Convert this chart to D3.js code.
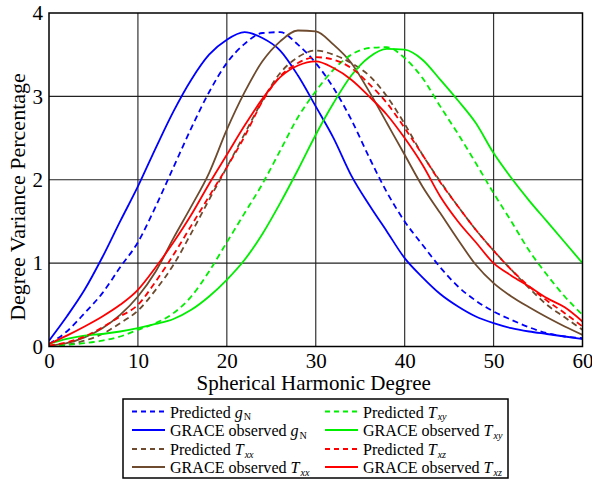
<!DOCTYPE html>
<html><head><meta charset="utf-8">
<script src="https://cdn.jsdelivr.net/npm/d3@7"></script>
<style>body{margin:0;background:#fff}svg{display:block}svg text{font-family:"Liberation Serif","Times New Roman","Tinos","Noto Serif","DejaVu Serif",serif}</style>
</head><body><svg id="c" width="592" height="479"></svg>
<script>
const degrees = [0,2,4,6,8,10,12,14,16,18,20,22,24,26,28,30,32,34,36,38,40,42,44,46,48,50,52,54,56,58,60];
const predGN   = [0.03,0.18,0.40,0.64,0.95,1.25,1.68,2.15,2.62,3.05,3.40,3.63,3.76,3.77,3.62,3.40,3.10,2.72,2.27,1.85,1.50,1.22,0.95,0.72,0.55,0.42,0.32,0.23,0.16,0.12,0.10];
const graceGN  = [0.07,0.36,0.68,1.07,1.50,1.92,2.38,2.82,3.20,3.50,3.68,3.77,3.70,3.55,3.25,2.88,2.50,2.05,1.70,1.38,1.06,0.83,0.63,0.48,0.36,0.28,0.22,0.18,0.15,0.12,0.09];
const predTxx  = [0.00,0.02,0.07,0.15,0.28,0.43,0.68,0.98,1.36,1.76,2.15,2.55,2.95,3.28,3.47,3.55,3.50,3.40,3.25,3.00,2.67,2.30,1.98,1.68,1.40,1.15,0.92,0.70,0.50,0.35,0.20];
const graceTxx = [0.01,0.04,0.11,0.22,0.38,0.60,0.90,1.30,1.68,2.08,2.60,3.05,3.42,3.66,3.79,3.78,3.62,3.40,3.06,2.68,2.30,1.92,1.60,1.28,0.98,0.76,0.60,0.47,0.35,0.24,0.14];
const predTxy  = [0.00,0.02,0.04,0.07,0.12,0.20,0.28,0.40,0.60,0.90,1.25,1.60,1.95,2.35,2.75,3.06,3.32,3.50,3.58,3.59,3.46,3.22,2.88,2.55,2.20,1.84,1.50,1.15,0.86,0.60,0.38];
const graceTxy = [0.03,0.09,0.13,0.15,0.18,0.22,0.27,0.33,0.44,0.60,0.80,1.04,1.35,1.72,2.12,2.54,2.92,3.25,3.47,3.57,3.56,3.44,3.20,2.95,2.68,2.32,2.02,1.75,1.50,1.25,1.00];
const predTxz  = [0.01,0.05,0.12,0.23,0.36,0.50,0.78,1.10,1.45,1.80,2.15,2.52,2.94,3.24,3.40,3.47,3.44,3.34,3.15,2.92,2.62,2.30,1.97,1.68,1.40,1.15,0.92,0.72,0.55,0.40,0.24];
const graceTxz = [0.03,0.13,0.24,0.36,0.50,0.68,0.95,1.25,1.58,1.95,2.30,2.65,2.97,3.23,3.37,3.42,3.34,3.20,3.00,2.78,2.50,2.18,1.80,1.50,1.25,1.00,0.85,0.72,0.58,0.47,0.30];
const xTicks = [0,10,20,30,40,50,60];
const yTicks = [0,1,2,3,4];

const series = [
  {v: predGN,   color:"#0000ff", dash:true},
  {v: graceGN,  color:"#0000ff", dash:false},
  {v: predTxx,  color:"#6e4b2e", dash:true},
  {v: graceTxx, color:"#6e4b2e", dash:false},
  {v: predTxy,  color:"#00ee00", dash:true},
  {v: graceTxy, color:"#00ee00", dash:false},
  {v: predTxz,  color:"#ff0000", dash:true},
  {v: graceTxz, color:"#ff0000", dash:false}
];

const svg = d3.select("#c");
const L=49, R=582.5, T=13, B=346.5;
const x = d3.scaleLinear().domain([0,60]).range([L,R]);
const y = d3.scaleLinear().domain([0,4]).range([B,T]);

svg.append("g").selectAll("line").data(xTicks.slice(1,-1)).join("line")
  .attr("x1",d=>x(d)).attr("x2",d=>x(d)).attr("y1",T).attr("y2",B)
  .attr("stroke","#333").attr("stroke-width",1.2);
svg.append("g").selectAll("line").data(yTicks.slice(1,-1)).join("line")
  .attr("y1",d=>y(d)).attr("y2",d=>y(d)).attr("x1",L).attr("x2",R)
  .attr("stroke","#222").attr("stroke-width",1.2);

const xa = svg.append("g").attr("transform",`translate(0,${B})`)
  .call(d3.axisBottom(x).tickValues(xTicks).tickFormat(d3.format("d")).tickSize(0).tickPadding(7));
const ya = svg.append("g").attr("transform",`translate(${L},0)`)
  .call(d3.axisLeft(y).tickValues(yTicks).tickFormat(d3.format("d")).tickSize(0).tickPadding(6));
[xa,ya].forEach(a=>{a.attr("font-family",null).attr("font-size",21);a.select(".domain").remove();a.selectAll("text").attr("fill","#000");});

const line = d3.line().x((d,i)=>x(degrees[i])).y(d=>y(d)).curve(d3.curveMonotoneX);
svg.append("clipPath").attr("id","cp").append("rect").attr("x",L).attr("y",T-2).attr("width",R-L).attr("height",B-T+2);
svg.append("g").attr("clip-path","url(#cp)").selectAll("path").data(series).join("path")
  .attr("d",d=>line(d.v)).attr("fill","none").attr("stroke",d=>d.color)
  .attr("stroke-width",1.8).attr("stroke-dasharray",d=>d.dash?"6,4":null);

svg.append("rect").attr("x",L).attr("y",T).attr("width",R-L).attr("height",B-T)
  .attr("fill","none").attr("stroke","#000").attr("stroke-width",1.5);

svg.append("text").attr("x",(L+R)/2-2).attr("y",390).attr("text-anchor","middle")
  .attr("font-size",21).text("Spherical Harmonic Degree");
svg.append("text").attr("transform","translate(25,197) rotate(-90)").attr("text-anchor","middle")
  .attr("font-size",22).text("Degree Variance Percentage");

const leg = svg.append("g");
leg.append("rect").attr("x",123).attr("y",399).attr("width",385).attr("height",79)
  .attr("fill","#fff").attr("stroke","#000").attr("stroke-width",1.5);
const labels = [
  ["Predicted ","g","N",false],["GRACE observed ","g","N",false],
  ["Predicted ","T","xx",true],["GRACE observed ","T","xx",true],
  ["Predicted ","T","xy",true],["GRACE observed ","T","xy",true],
  ["Predicted ","T","xz",true],["GRACE observed ","T","xz",true]
];
const rowY = [411.5,430,449,467];
series.forEach((s,i)=>{
  const col = i<4?0:1, row = i%4;
  const lx = col===0?132:325, ty = rowY[row];
  leg.append("line").attr("x1",lx).attr("x2",lx+33).attr("y1",ty).attr("y2",ty)
    .attr("stroke",s.color).attr("stroke-width",1.8).attr("stroke-dasharray",s.dash?"5,4":null);
  const t = leg.append("text").attr("transform",`translate(${lx+38},${ty+6}) scale(0.92,1)`).attr("font-size",17.5);
  const lb = labels[i];
  t.append("tspan").text(lb[0]);
  t.append("tspan").attr("font-style","italic").text(lb[1]);
  t.append("tspan").attr("font-size",11).attr("dx",1).attr("dy",2.5).attr("font-style",lb[3]?"italic":"normal").text(lb[2]);
});
</script></body></html>
